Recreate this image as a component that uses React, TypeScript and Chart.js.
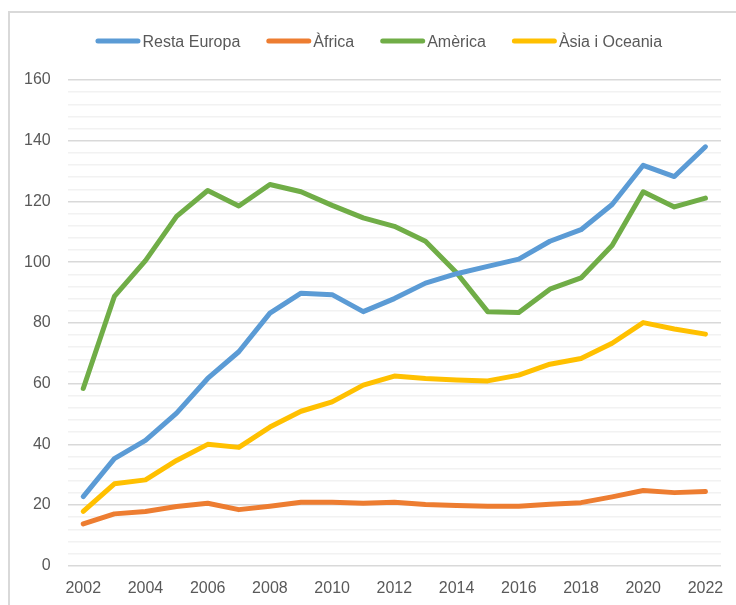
import React, { useEffect, useRef } from 'react';
import { Chart, registerables } from 'chart.js';

Chart.register(...registerables);

const years = ['2002', '2003', '2004', '2005', '2006', '2007', '2008', '2009', '2010', '2011', '2012', '2013', '2014', '2015', '2016', '2017', '2018', '2019', '2020', '2021', '2022'];
const seriesNames = ['Resta Europa', 'Àfrica', 'Amèrica', 'Àsia i Oceania'];
const restaEuropa = [22.8, 35.3, 41.3, 50.3, 61.7, 70.5, 83.2, 89.8, 89.3, 83.7, 88, 93.1, 96.2, 98.6, 101, 106.9, 110.7, 119, 131.9, 128.2, 138];
const africa = [13.8, 17.1, 17.9, 19.5, 20.6, 18.5, 19.6, 20.9, 20.9, 20.6, 20.9, 20.2, 19.9, 19.6, 19.6, 20.3, 20.8, 22.7, 24.8, 24.1, 24.5];
const america = [58.4, 88.7, 100.5, 115.1, 123.6, 118.5, 125.6, 123.2, 118.7, 114.6, 111.8, 106.9, 96.5, 83.7, 83.4, 91.1, 94.8, 105.5, 123.2, 118.2, 121.1];
const asiaOceania = [17.9, 27, 28.3, 34.7, 40, 39, 45.7, 50.9, 54, 59.5, 62.5, 61.7, 61.2, 60.9, 62.8, 66.4, 68.3, 73.3, 80.1, 78, 76.3];
const seriesColors = ['#5B9BD5', '#ED7D31', '#70AD47', '#FFC000'];
const yMin = 0;
const yMax = 160;
const yMinorStep = 4;
const yMajorStep = 20;

const FONT = '"Liberation Sans", Arial, sans-serif';
const TEXT_COLOR = '#595959';

const framePlugin = {
  id: 'excelFrame',
  beforeDraw(chart: any) {
    const ctx = chart.ctx;
    ctx.save();
    ctx.fillStyle = '#d9d9d9';
    ctx.fillRect(8, 11, 2, chart.height);
    ctx.fillRect(8, 11, chart.width, 2);
    ctx.restore();
  },
};

const legendPlugin = {
  id: 'excelLegend',
  afterDraw(chart: any) {
    const ctx = chart.ctx;
    const lineLen = 40;
    const lineW = 5;
    const textGap = 4.5;
    const itemGap = 26;
    ctx.save();
    ctx.font = `16px ${FONT}`;
    const ds = chart.data.datasets;
    const widths = ds.map((d: any) => ctx.measureText(d.label).width);
    let total = 0;
    widths.forEach((w: number, i: number) => {
      total += lineW / 2 + lineLen + textGap + w;
      if (i < widths.length - 1) total += itemGap;
    });
    total += lineW / 2;
    let x = chart.width / 2 - total / 2 + lineW / 2 + 1;
    const yLine = 41;
    ds.forEach((d: any, i: number) => {
      ctx.strokeStyle = d.borderColor;
      ctx.lineWidth = lineW;
      ctx.lineCap = 'round';
      ctx.beginPath();
      ctx.moveTo(x, yLine);
      ctx.lineTo(x + lineLen, yLine);
      ctx.stroke();
      ctx.fillStyle = TEXT_COLOR;
      ctx.textBaseline = 'alphabetic';
      ctx.textAlign = 'left';
      ctx.fillText(d.label, x + lineLen + textGap, 46.5);
      x += lineLen + textGap + widths[i] + itemGap + lineW / 2;
    });
    ctx.restore();
  },
};

export default function App() {
  const ref = useRef<HTMLCanvasElement | null>(null);

  useEffect(() => {
    if (!ref.current) return;
    const allSeries = [restaEuropa, africa, america, asiaOceania];
    const chart = new Chart(ref.current, {
      type: 'line',
      data: {
        labels: years,
        datasets: allSeries.map((values, i) => ({
          label: seriesNames[i],
          data: values,
          borderColor: seriesColors[i],
          backgroundColor: seriesColors[i],
          borderWidth: 5,
          borderCapStyle: 'round' as const,
          borderJoinStyle: 'round' as const,
          pointRadius: 0,
          pointHoverRadius: 0,
          tension: 0,
          fill: false,
        })),
      },
      options: {
        responsive: false,
        animation: false,
        events: [],
        layout: { padding: { left: 7, right: 37, top: 80, bottom: 9 } },
        plugins: {
          legend: { display: false },
          tooltip: { enabled: false },
          title: { display: false },
        },
        scales: {
          x: {
            type: 'category',
            offset: true,
            grid: { display: false, drawTicks: false },
            border: { display: false },
            ticks: {
              autoSkip: false,
              maxRotation: 0,
              minRotation: 0,
              padding: 13,
              color: TEXT_COLOR,
              font: { family: FONT, size: 16 },
              callback: (_v: any, idx: number) => (idx % 2 === 0 ? years[idx] : ''),
            },
          },
          y: {
            min: yMin,
            max: yMax,
            border: { display: false },
            grid: {
              drawTicks: false,
              lineWidth: 1.5,
              color: (c: any) => (c.tick && c.tick.value % yMajorStep === 0 ? '#d9d9d9' : '#f2f2f2'),
            },
            ticks: {
              stepSize: yMinorStep,
              autoSkip: false,
              padding: 17,
              color: TEXT_COLOR,
              font: { family: FONT, size: 16 },
              callback: (v: any) => (Number(v) % yMajorStep === 0 ? String(v) : ''),
            },
          },
        },
      },
      plugins: [framePlugin, legendPlugin],
    });
    return () => chart.destroy();
  }, []);

  return (
    <div style={{ position: 'fixed', left: 0, top: 0, width: 736, height: 605, overflow: 'hidden', background: '#fff' }}>
      <canvas ref={ref} width={758} height={620} style={{ display: 'block', width: 758, height: 620 }} />
    </div>
  );
}
